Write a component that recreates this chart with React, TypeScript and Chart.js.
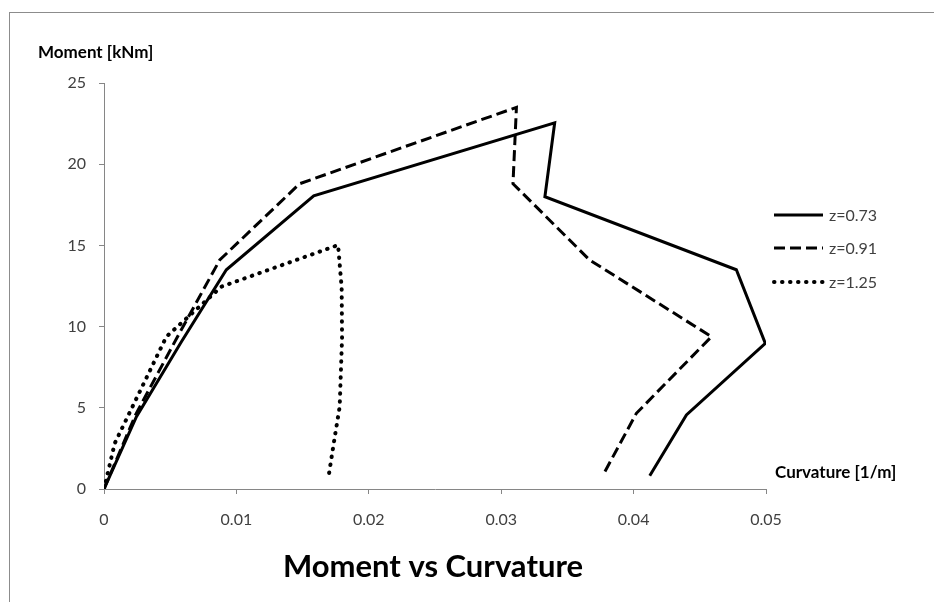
import React, { useEffect, useRef } from "react";
import { Chart, registerables } from "chart.js";

Chart.register(...registerables);

// z = 0.73 (solid)
const curvZ073 = [0, 0.00245, 0.0058, 0.00924, 0.01584, 0.03404, 0.0333, 0.04776, 0.04995, 0.04399, 0.04122];
const momZ073 = [0, 4.45, 9.0, 13.5, 18.05, 22.55, 18.0, 13.5, 8.97, 4.56, 0.82];

// z = 0.91 (dashed)
const curvZ091 = [0, 0.0024, 0.0055, 0.00874, 0.01478, 0.03115, 0.03089, 0.03668, 0.04588, 0.04021, 0.03769];
const momZ091 = [0, 4.6, 9.3, 14.1, 18.8, 23.5, 18.8, 14.1, 9.38, 4.66, 0.86];

// z = 1.25 (dotted)
const curvZ125 = [0, 0.00081, 0.00471, 0.00887, 0.01768, 0.01795, 0.01798, 0.0178, 0.01735, 0.01692];
const momZ125 = [0, 2.81, 9.38, 12.46, 15.02, 12.4, 9.3, 5.07, 2.8, 0.55];

const seriesLabels = ["z=0.73", "z=0.91", "z=1.25"];
const xTickLabels = ["0", "0.01", "0.02", "0.03", "0.04", "0.05"];
const yTickLabels = ["0", "5", "10", "15", "20", "25"];

const xAxisTitle = "Curvature [1/m]";
const yAxisTitle = "Moment [kNm]";
const chartTitle = "Moment vs Curvature";

const FONT = "Lato, 'Open Sans', sans-serif";

function toPoints(xs: number[], ys: number[]) {
  return xs.map((x, i) => ({ x, y: ys[i] }));
}

const textPlugin = {
  id: "customTexts",
  afterDraw(chart: any) {
    const ctx = chart.ctx as CanvasRenderingContext2D;
    const area = chart.chartArea;
    ctx.save();
    // y axis title
    ctx.fillStyle = "#000";
    ctx.font = `bold 17px ${FONT}`;
    ctx.textAlign = "left";
    ctx.textBaseline = "middle";
    ctx.fillText(yAxisTitle, 28, 40);
    // x axis title
    ctx.fillText(xAxisTitle, area.right + 9, area.bottom - 16);
    // chart title
    ctx.font = `bold 31px ${FONT}`;
    ctx.textAlign = "center";
    ctx.fillText(chartTitle, (area.left + area.right) / 2 - 2, 554);

    // legend
    const ds = chart.data.datasets;
    const legendYs = [202, 235, 269];
    ds.forEach((d: any, i: number) => {
      const y = legendYs[i];
      ctx.beginPath();
      ctx.strokeStyle = d.borderColor;
      ctx.lineWidth = d.borderWidth;
      ctx.lineCap = d.borderCapStyle || "butt";
      ctx.setLineDash(d.borderDash || []);
      ctx.moveTo(area.right + 8, y);
      ctx.lineTo(area.right + 57, y);
      ctx.stroke();
      ctx.setLineDash([]);
      ctx.fillStyle = "#404040";
      ctx.font = `16px ${FONT}`;
      ctx.textAlign = "left";
      ctx.textBaseline = "middle";
      ctx.fillText(d.label, area.right + 63, y + 1);
    });
    ctx.restore();
  },
};

function MomentChart() {
  const canvasRef = useRef<HTMLCanvasElement | null>(null);

  useEffect(() => {
    document.documentElement.style.overflow = "hidden";
    document.body.style.overflow = "hidden";
    if (!canvasRef.current) return;
    const chart = new Chart(canvasRef.current, {
      type: "scatter",
      data: {
        datasets: [
          {
            label: seriesLabels[0],
            data: toPoints(curvZ073, momZ073),
            showLine: true,
            borderColor: "#000",
            borderWidth: 3,
            pointRadius: 0,
            fill: false,
            borderJoinStyle: "miter",
          },
          {
            label: seriesLabels[1],
            data: toPoints(curvZ091, momZ091),
            showLine: true,
            borderColor: "#000",
            borderWidth: 3,
            borderDash: [11, 5],
            pointRadius: 0,
            fill: false,
            borderJoinStyle: "miter",
          },
          {
            label: seriesLabels[2],
            data: toPoints(curvZ125, momZ125),
            showLine: true,
            borderColor: "#000",
            borderWidth: 4,
            borderDash: [0.5, 7.5],
            borderCapStyle: "round",
            pointRadius: 0,
            fill: false,
          },
        ] as any,
      },
      options: {
        animation: false,
        responsive: false,
        maintainAspectRatio: false,
        layout: { padding: { left: 0, top: 70, right: 176, bottom: 0 } },
        plugins: {
          legend: { display: false },
          title: { display: false },
          tooltip: { enabled: false },
        },
        scales: {
          x: {
            type: "linear",
            min: 0,
            max: 0.05,
            afterFit: (scale: any) => {
              scale.height = 117;
            },
            ticks: {
              stepSize: 0.01,
              padding: 16,
              color: "#404040",
              font: { family: FONT, size: 16 },
              maxRotation: 0,
              callback: (_v: any, i: number) => xTickLabels[i],
            },
            grid: {
              display: true,
              drawOnChartArea: false,
              drawTicks: true,
              tickLength: 5,
              color: "#868686",
            },
            border: { display: true, color: "#868686", width: 1 },
          },
          y: {
            type: "linear",
            min: 0,
            max: 25,
            afterFit: (scale: any) => {
              scale.width = 94;
            },
            ticks: {
              stepSize: 5,
              padding: 13,
              color: "#404040",
              font: { family: FONT, size: 16 },
              callback: (_v: any, i: number) => yTickLabels[i],
            },
            grid: {
              display: true,
              drawOnChartArea: false,
              drawTicks: true,
              tickLength: 5,
              color: "#868686",
            },
            border: { display: true, color: "#868686", width: 1 },
          },
        },
      } as any,
      plugins: [textPlugin],
    });
    return () => chart.destroy();
  }, []);

  return (
    <div
      style={{
        position: "relative",
        left: 1,
        top: 4,
        borderLeft: "1px solid #8c8c8c",
        borderTop: "1px solid #8c8c8c",
        width: 932,
        height: 593,
        background: "#fff",
      }}
    >
      <canvas ref={canvasRef} width={932} height={593} style={{ display: "block", width: 932, height: 593 }} />
    </div>
  );
}

export default function App() {
  return <MomentChart />;
}
